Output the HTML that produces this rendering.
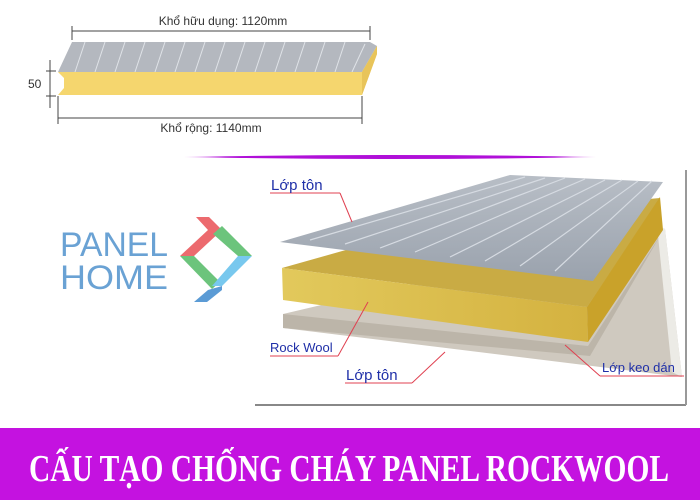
<!DOCTYPE html>
<html><head><meta charset="utf-8"><style>
html,body{margin:0;padding:0;background:#fff;}
svg{display:block;}
</style></head><body>
<svg width="700" height="500" viewBox="0 0 700 500" xmlns="http://www.w3.org/2000/svg">
<defs>
<linearGradient id="pl" x1="0" x2="1"><stop offset="0" stop-color="#c020e0" stop-opacity="0.4"/><stop offset="0.1" stop-color="#b010d8"/><stop offset="0.9" stop-color="#b010d8"/><stop offset="1" stop-color="#c020e0" stop-opacity="0.4"/></linearGradient>
<linearGradient id="sheet" x1="0" y1="0" x2="0" y2="1"><stop offset="0" stop-color="#b8bec6"/><stop offset="1" stop-color="#9aa2ad"/></linearGradient>
<linearGradient id="wool" x1="0" y1="0" x2="1" y2="0"><stop offset="0" stop-color="#e2c95c"/><stop offset="1" stop-color="#d4b240"/></linearGradient>
</defs>
<rect width="700" height="500" fill="#fff"/>
<!-- small panel -->
<polygon points="72,42 370,42 377,46 362,72 58,72" fill="#b4b8bf"/>
<g stroke="#e0e3e8" stroke-width="1">
<line x1="85" y1="42" x2="75" y2="72"/><line x1="105" y1="42" x2="95" y2="72"/><line x1="125" y1="42" x2="115" y2="72"/><line x1="145" y1="42" x2="135" y2="72"/><line x1="165" y1="42" x2="155" y2="72"/><line x1="185" y1="42" x2="175" y2="72"/><line x1="205" y1="42" x2="195" y2="72"/><line x1="225" y1="42" x2="215" y2="72"/><line x1="245" y1="42" x2="235" y2="72"/><line x1="265" y1="42" x2="255" y2="72"/><line x1="285" y1="42" x2="275" y2="72"/><line x1="305" y1="42" x2="295" y2="72"/><line x1="325" y1="42" x2="315" y2="72"/><line x1="345" y1="42" x2="335" y2="72"/><line x1="365" y1="44" x2="352" y2="72"/>
</g>
<polygon points="58,72 362,72 377,46 377,54 362,95 58,95 64,88 64,78" fill="#f5d66e"/>
<polygon points="362,72 377,46 377,54 362,95" fill="#e8c45a"/>
<g stroke="#444" stroke-width="1" fill="none">
<line x1="72" y1="31" x2="370" y2="31"/><line x1="72" y1="26" x2="72" y2="40"/><line x1="370" y1="26" x2="370" y2="40"/>
<line x1="58" y1="118" x2="362" y2="118"/><line x1="58" y1="96" x2="58" y2="124"/><line x1="362" y1="96" x2="362" y2="124"/>
<line x1="50" y1="60" x2="50" y2="108"/><line x1="46" y1="71" x2="56" y2="71"/><line x1="46" y1="96" x2="56" y2="96"/>
</g>
<g font-family="Liberation Sans, sans-serif" font-size="12" fill="#333">
<text x="223" y="25" text-anchor="middle">Khổ hữu dụng: 1120mm</text>
<text x="211" y="132" text-anchor="middle">Khổ rộng: 1140mm</text>
<text x="28" y="88">50</text>
</g>
<!-- purple line -->
<path d="M184,157 Q390,153 596,157 Q390,161 184,157 Z" fill="url(#pl)"/>
<!-- logo -->
<g font-family="Liberation Sans, sans-serif" font-size="34" fill="#6aa2d4">
<text x="60" y="256" textLength="108" lengthAdjust="spacingAndGlyphs">PANEL</text>
<text x="60" y="289" textLength="108" lengthAdjust="spacingAndGlyphs">HOME</text>
</g>
<polygon points="196,217 209,217 222,230 194,256 180,256 208,230" fill="#ec6a6e"/>
<polygon points="213,234 222,226 252,256 238,256" fill="#6cc47c"/>
<polygon points="180,256 194,256 220,282 212,289" fill="#6cc47c"/>
<polygon points="238,256 252,256 222,286 212,286" fill="#78c8ee"/>
<polygon points="208,290 222,286 222,290 207,302 194,302" fill="#5b9bd5"/>
<!-- frame -->
<line x1="255" y1="405" x2="686" y2="405" stroke="#888" stroke-width="2"/>
<line x1="686" y1="170" x2="686" y2="405" stroke="#999" stroke-width="2"/>
<!-- bottom sheet -->
<polygon points="283,314 657,226 665,229 682,377 283,328" fill="#cfc9bf"/>
<polygon points="657,226 665,229 682,377 672,372" fill="#ecebe6"/>
<polygon points="283,314 588,346 660,236 590,356 283,328" fill="#bcb5a9"/>
<!-- wool -->
<polygon points="282,268 470,215 660,198 587,307" fill="#c9ab44"/>
<polygon points="282,268 587,307 588,342 283,300" fill="url(#wool)"/>
<polygon points="587,307 660,197 663,230 588,342" fill="#c9a22a"/>
<!-- top sheet -->
<polygon points="280,242 510,175 663,182 593,281" fill="url(#sheet)"/>
<g stroke="#d6dbe2" stroke-width="1.2">
<line x1="310" y1="240" x2="525" y2="177"/><line x1="345" y1="244" x2="545" y2="178"/><line x1="380" y1="248" x2="565" y2="178"/><line x1="415" y1="252" x2="585" y2="179"/><line x1="450" y1="257" x2="605" y2="180"/><line x1="485" y1="261" x2="622" y2="180"/><line x1="520" y1="266" x2="638" y2="181"/><line x1="555" y1="271" x2="652" y2="181"/>
</g>
<!-- labels -->
<g stroke="#e04050" stroke-width="1" fill="none">
<line x1="270" y1="193" x2="340" y2="193"/><line x1="340" y1="193" x2="352" y2="222"/>
<line x1="270" y1="356" x2="338" y2="356"/><line x1="338" y1="356" x2="368" y2="302"/>
<line x1="345" y1="383" x2="412" y2="383"/><line x1="412" y1="383" x2="445" y2="352"/>
<line x1="600" y1="376" x2="684" y2="376"/><line x1="600" y1="376" x2="565" y2="345"/>
</g>
<g font-family="Liberation Sans, sans-serif" fill="#1f2fa8">
<text x="271" y="190" font-size="15">Lớp tôn</text>
<text x="270" y="352" font-size="13">Rock Wool</text>
<text x="346" y="380" font-size="15">Lớp tôn</text>
<text x="602" y="372" font-size="13">Lớp keo dán</text>
</g>
<!-- banner -->
<rect x="0" y="428" width="700" height="72" fill="#c412e0"/>
<text x="349" y="481" text-anchor="middle" font-family="Liberation Serif, serif" font-weight="bold" font-size="38" fill="#fff" textLength="640" lengthAdjust="spacingAndGlyphs">CẤU TẠO CHỐNG CHÁY PANEL ROCKWOOL</text>
</svg>
</body></html>
